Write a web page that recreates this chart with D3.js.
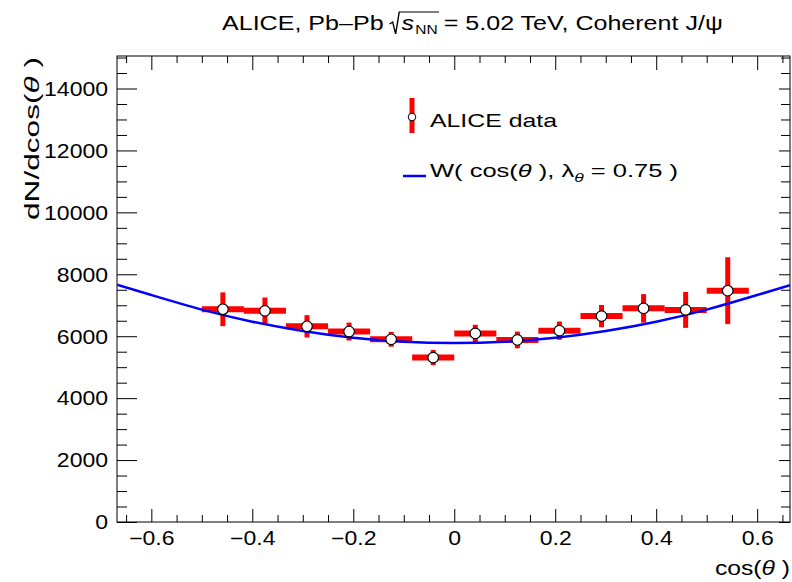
<!DOCTYPE html>
<html>
<head>
<meta charset="utf-8">
<script src="https://cdn.jsdelivr.net/npm/d3@7"></script>
<style>
  body { margin: 0; background: #fff; }
  text { font-family: "Liberation Sans", Arial, sans-serif; fill: #000; }
</style>
</head>
<body>
<div id="chart"></div>
<script>
// bin centres in cos(theta), bin half width, counts and errors
const cosTheta = [-0.4583, -0.375, -0.2917, -0.2083, -0.125, -0.0417, 0.0417, 0.125, 0.2083, 0.2917, 0.375, 0.4583, 0.5417];
const binHalf = 0.0417;
const counts = [6870, 6820, 6320, 6150, 5900, 5310, 6090, 5880, 6180, 6650, 6900, 6850, 7470];
const errors = [545, 430, 360, 290, 240, 245, 280, 270, 295, 360, 460, 580, 1080];

// fitted W(cos theta)
const fitX = [-0.668, -0.6, -0.5, -0.4, -0.3, -0.2, -0.1, 0, 0.1, 0.2, 0.3, 0.4, 0.5, 0.6, 0.665];
const fitY = [7660, 7330, 6860, 6470, 6170, 5950, 5820, 5780, 5820, 5950, 6170, 6470, 6860, 7330, 7650];

const xMajor = [-0.6, -0.4, -0.2, 0, 0.2, 0.4, 0.6];
const yMajor = [0, 2000, 4000, 6000, 8000, 10000, 12000, 14000];

const width = 792, height = 582;
const fLeft = 117, fRight = 790, fTop = 56, fBottom = 522;
const sx = 1.18; // horizontal stretch of the text glyphs

const svg = d3.select("#chart").append("svg")
    .attr("width", width)
    .attr("height", height);

const xscale = d3.scaleLinear().domain([-0.668, 0.665]).range([fLeft, fRight]);
const yscale = d3.scaleLinear().domain([0, 15050]).range([fBottom, fTop]);

const xMinor = d3.range(-0.65, 0.66, 0.05).map(v => +v.toFixed(2)).filter(v => !xMajor.some(m => Math.abs(m - v) < 1e-6));
const yMinor = d3.range(500, 15001, 500).filter(v => v % 2000 !== 0);

function fmtX(d) { return d === 0 ? "0" : d3.format(".1f")(d); }

// bottom axis
svg.append("g")
    .attr("transform", `translate(0,${fBottom})`)
    .call(d3.axisBottom(xscale).tickValues(xMinor).tickSize(-7).tickFormat(""))
    .call(g => g.select(".domain").remove());
const xb = svg.append("g")
    .attr("transform", `translate(0,${fBottom})`)
    .call(d3.axisBottom(xscale).tickValues(xMajor).tickSize(-13).tickFormat(fmtX).tickPadding(0));
xb.select(".domain").remove();
xb.selectAll("text")
    .attr("y", 23)
    .attr("dy", 0)
    .style("font-size", "19.5px")
    .attr("transform", `scale(${sx},1)`);

// top axis
svg.append("g")
    .attr("transform", `translate(0,${fTop})`)
    .call(d3.axisTop(xscale).tickValues(xMinor).tickSize(-7).tickFormat(""))
    .call(g => g.select(".domain").remove());
svg.append("g")
    .attr("transform", `translate(0,${fTop})`)
    .call(d3.axisTop(xscale).tickValues(xMajor).tickSize(-14).tickFormat(""))
    .call(g => g.select(".domain").remove());

// left axis
svg.append("g")
    .attr("transform", `translate(${fLeft},0)`)
    .call(d3.axisLeft(yscale).tickValues(yMinor).tickSize(-10).tickFormat(""))
    .call(g => g.select(".domain").remove());
const yl = svg.append("g")
    .attr("transform", `translate(${fLeft},0)`)
    .call(d3.axisLeft(yscale).tickValues(yMajor).tickSize(-20).tickFormat(d3.format("d")));
yl.select(".domain").remove();
yl.selectAll("text")
    .attr("x", -9 / sx)
    .attr("dy", "0.35em")
    .style("font-size", "19.5px")
    .attr("transform", `scale(${sx},1)`);

// right axis
svg.append("g")
    .attr("transform", `translate(${fRight},0)`)
    .call(d3.axisRight(yscale).tickValues(yMinor).tickSize(-9).tickFormat(""))
    .call(g => g.select(".domain").remove());
svg.append("g")
    .attr("transform", `translate(${fRight},0)`)
    .call(d3.axisRight(yscale).tickValues(yMajor).tickSize(-11).tickFormat(""))
    .call(g => g.select(".domain").remove());

svg.selectAll(".tick line").attr("stroke", "#000").attr("stroke-width", 1);

// frame
svg.append("rect")
    .attr("x", fLeft).attr("y", fTop)
    .attr("width", fRight - fLeft).attr("height", fBottom - fTop)
    .attr("fill", "none").attr("stroke", "#000").attr("stroke-width", 1);

svg.append("clipPath").attr("id", "clip")
    .append("rect").attr("x", fLeft).attr("y", fTop).attr("width", fRight - fLeft).attr("height", fBottom - fTop);
const plot = svg.append("g").attr("clip-path", "url(#clip)");

const pts = cosTheta.map((c, i) => ({ c: c, n: counts[i], e: errors[i] }));

// horizontal bin-width bars
plot.selectAll(".hbar").data(pts).enter().append("line")
    .attr("x1", d => xscale(d.c - binHalf))
    .attr("x2", d => xscale(d.c + binHalf))
    .attr("y1", d => yscale(d.n))
    .attr("y2", d => yscale(d.n))
    .attr("stroke", "#ff0000").attr("stroke-width", 6);

// vertical error bars
plot.selectAll(".vbar").data(pts).enter().append("line")
    .attr("x1", d => xscale(d.c))
    .attr("x2", d => xscale(d.c))
    .attr("y1", d => yscale(d.n - d.e))
    .attr("y2", d => yscale(d.n + d.e))
    .attr("stroke", "#ff0000").attr("stroke-width", 5);

// fit curve
const fitLine = d3.line()
    .x(d => xscale(d[0]))
    .y(d => yscale(d[1]))
    .curve(d3.curveNatural);
plot.append("path")
    .datum(fitX.map((x, i) => [x, fitY[i]]))
    .attr("d", fitLine)
    .attr("fill", "none")
    .attr("stroke", "#0000ff")
    .attr("stroke-width", 2.5);

// markers
plot.selectAll(".marker").data(pts).enter().append("circle")
    .attr("cx", d => xscale(d.c))
    .attr("cy", d => yscale(d.n))
    .attr("r", 5.3)
    .attr("fill", "#fff")
    .attr("stroke", "#000")
    .attr("stroke-width", 1.2);

// legend
svg.append("line")
    .attr("x1", 412).attr("x2", 412).attr("y1", 98).attr("y2", 133)
    .attr("stroke", "#ff0000").attr("stroke-width", 5);
svg.append("circle")
    .attr("cx", 412).attr("cy", 117).attr("r", 3.8)
    .attr("fill", "#fff").attr("stroke", "#000").attr("stroke-width", 1);
svg.append("text")
    .attr("x", 430).attr("y", 127)
    .attr("textLength", 127).attr("lengthAdjust", "spacingAndGlyphs")
    .style("font-size", "19px")
    .text("ALICE data");

svg.append("line")
    .attr("x1", 403).attr("x2", 426).attr("y1", 176).attr("y2", 176)
    .attr("stroke", "#0000ff").attr("stroke-width", 2.5);
const wl = svg.append("text")
    .attr("x", 430).attr("y", 177)
    .attr("textLength", 248).attr("lengthAdjust", "spacingAndGlyphs")
    .style("font-size", "19px");
wl.append("tspan").text("W( cos(");
wl.append("tspan").style("font-style", "italic").text("θ");
wl.append("tspan").text(" ), λ");
wl.append("tspan").attr("dy", 5).style("font-size", "13px").style("font-style", "italic").text("θ");
wl.append("tspan").attr("dy", -5).text(" = 0.75 )");

// axis titles
svg.append("text")
    .attr("x", 790).attr("y", 575)
    .attr("text-anchor", "end")
    .attr("textLength", 75).attr("lengthAdjust", "spacingAndGlyphs")
    .style("font-size", "19.5px")
    .html('cos(<tspan font-style="italic">θ</tspan> )');

svg.append("text")
    .attr("transform", "translate(39,57) rotate(-90)")
    .attr("text-anchor", "end")
    .attr("textLength", 163).attr("lengthAdjust", "spacingAndGlyphs")
    .style("font-size", "19.5px")
    .html('dN/dcos(<tspan font-style="italic">θ</tspan> )');

// title with square root
const title = svg.append("g");
const tfs = 21;
let cx = 0;
const t1 = title.append("text").attr("x", cx).attr("y", 0).style("font-size", tfs + "px").text("ALICE, Pb\u2013Pb");
cx += t1.node().getComputedTextLength() + 5;
const rootStart = cx;
const ts = title.append("text").attr("x", cx + 10).attr("y", 0).style("font-size", tfs + "px").style("font-style", "italic").text("s");
const sW = ts.node().getComputedTextLength();
const tnn = title.append("text").attr("x", cx + 10 + sW + 1).attr("y", 4).style("font-size", "13px").text("NN");
const nnW = tnn.node().getComputedTextLength();
const rootEnd = cx + 10 + sW + 1 + nnW + 1;
title.append("path")
    .attr("d", `M${rootStart},-6 L${rootStart + 2.5},-8 L${rootStart + 5},4 L${rootStart + 8},-18 L${rootEnd},-18`)
    .attr("fill", "none").attr("stroke", "#000").attr("stroke-width", 1.2);
cx = rootEnd + 4;
title.append("text").attr("x", cx).attr("y", 0).style("font-size", tfs + "px").text("= 5.02 TeV, Coherent J/ψ");
const tb = title.node().getBBox();
const tScale = 501 / tb.width;
title.attr("transform", `translate(222,30) scale(${tScale},1)`);
</script>
</body>
</html>
